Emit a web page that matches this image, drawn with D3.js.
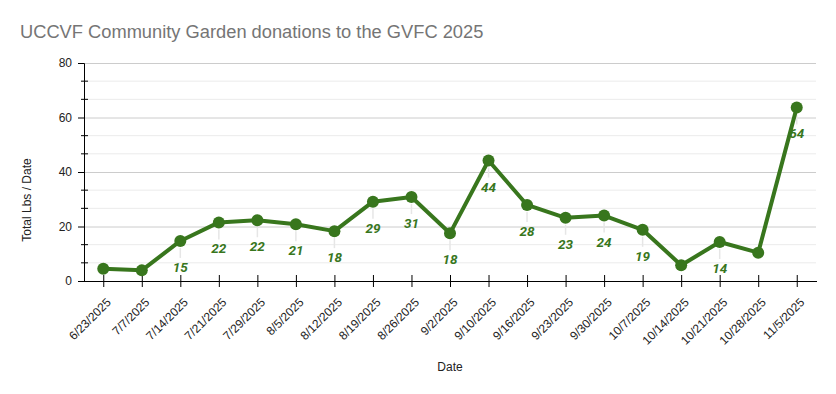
<!DOCTYPE html>
<html>
<head>
<meta charset="utf-8">
<script src="https://cdn.jsdelivr.net/npm/d3@7"></script>
<style>
  body { margin: 0; background: #fff; }
  svg { display: block; }
</style>
</head>
<body>
<div id="chart"></div>
<script>
const dates = ["6/23/2025", "7/7/2025", "7/14/2025", "7/21/2025", "7/29/2025", "8/5/2025",
  "8/12/2025", "8/19/2025", "8/26/2025", "9/2/2025", "9/10/2025", "9/16/2025", "9/23/2025",
  "9/30/2025", "10/7/2025", "10/14/2025", "10/21/2025", "10/28/2025", "11/5/2025"];
const pounds = [4.5, 3.9, 14.7, 21.5, 22.3, 20.8, 18.3, 29.1, 30.8, 17.5, 44.2, 27.9, 23.2,
  24.0, 18.8, 5.8, 14.3, 10.4, 63.7];
// labels hidden where the chart hid them
const labelShown = [false, false, true, true, true, true, true, true, true, true, true, true, true,
  true, true, false, true, false, true];
const yTicks = [0, 20, 40, 60, 80];

const W = 836, H = 394;
const margin = { top: 63, right: 20, bottom: 113, left: 84 };
const width = W - margin.left - margin.right;
const height = H - margin.top - margin.bottom;
const green = "#38761d";

const svg = d3.select("#chart").append("svg")
  .attr("width", W).attr("height", H)
  .style("font-family", "'Liberation Sans', Arial, sans-serif");

svg.append("text")
  .attr("x", 20).attr("y", 38)
  .attr("fill", "#757575")
  .attr("font-size", 18.3)
  .text("UCCVF Community Garden donations to the GVFC 2025");

const g = svg.append("g").attr("transform", `translate(${margin.left},${margin.top})`);

const x = d3.scalePoint().domain(dates).range([0, width]).padding(0.5);
const y = d3.scaleLinear().domain([0, 80]).range([height, 0]);

// minor grid (thirds between majors)
const minor = d3.range(0, 80, 20 / 3).filter((v, i) => i % 3 !== 0);
g.append("g").selectAll("line").data(minor).join("line")
  .attr("x1", 0).attr("x2", width)
  .attr("y1", (d) => y(d)).attr("y2", (d) => y(d))
  .attr("stroke", "#ebebeb");
g.append("g").selectAll("line").data(minor).join("line")
  .attr("x1", -3).attr("x2", 4)
  .attr("y1", (d) => y(d)).attr("y2", (d) => y(d))
  .attr("stroke", "#000");

g.append("g")
  .call(d3.axisLeft(y).tickValues(yTicks).tickSize(-width).tickFormat(""))
  .call((s) => s.select(".domain").remove())
  .call((s) => s.selectAll("line").attr("stroke", "#cccccc"));

g.append("g")
  .call(d3.axisLeft(y).tickValues(yTicks).tickSize(6).tickPadding(6))
  .call((s) => s.select(".domain").attr("stroke", "#000"))
  .call((s) => s.selectAll("text").attr("fill", "#222").attr("font-size", 12)
    .attr("font-family", "'Liberation Sans', Arial, sans-serif"));

const xAxis = g.append("g")
  .attr("transform", `translate(0,${height})`)
  .call(d3.axisBottom(x).tickSizeOuter(0).tickSize(6))
  .call((s) => s.select(".domain").attr("stroke", "#000").attr("d", `M0,0.5H${width + 1}`))
  .call((s) => s.selectAll(".tick line").attr("y1", -6).attr("stroke", "#000"));
xAxis.selectAll("text")
  .attr("fill", "#222").attr("font-size", 12)
  .attr("font-family", "'Liberation Sans', Arial, sans-serif")
  .attr("text-anchor", "end")
  .attr("dy", null).attr("y", 0)
  .attr("transform", "translate(8,22) rotate(-45)");

svg.append("text")
  .attr("transform", "translate(31,200) rotate(-90)")
  .attr("text-anchor", "middle")
  .attr("font-size", 12).attr("fill", "#222")
  .text("Total Lbs / Date");

svg.append("text")
  .attr("x", 450).attr("y", 371)
  .attr("text-anchor", "middle")
  .attr("font-size", 12).attr("fill", "#222")
  .text("Date");

const data = dates.map((d, i) => ({ date: d, v: pounds[i], show: labelShown[i] }));

// leader lines to labels
g.append("g").selectAll("line").data(data.filter((d) => d.show)).join("line")
  .attr("x1", (d) => x(d.date)).attr("x2", (d) => x(d.date))
  .attr("y1", (d) => y(d.v) + 7).attr("y2", (d) => y(d.v) + 17)
  .attr("stroke", "#e6e6e6").attr("stroke-width", 1.5);

g.append("path")
  .datum(data)
  .attr("fill", "none")
  .attr("stroke", green)
  .attr("stroke-width", 4)
  .attr("stroke-linejoin", "round")
  .attr("d", d3.line().x((d) => x(d.date)).y((d) => y(d.v)));

g.append("g").selectAll("circle").data(data).join("circle")
  .attr("cx", (d) => x(d.date)).attr("cy", (d) => y(d.v))
  .attr("r", 6).attr("fill", green);

g.append("g").selectAll("text").data(data.filter((d) => d.show)).join("text")
  .attr("x", (d) => x(d.date)).attr("y", (d) => y(d.v) + 31)
  .attr("text-anchor", "middle")
  .attr("font-family", "Roboto, sans-serif")
  .attr("font-weight", "bold").attr("font-style", "italic")
  .attr("font-size", 13.5).attr("fill", green)
  .text((d) => Math.round(d.v));
</script>
</body>
</html>
